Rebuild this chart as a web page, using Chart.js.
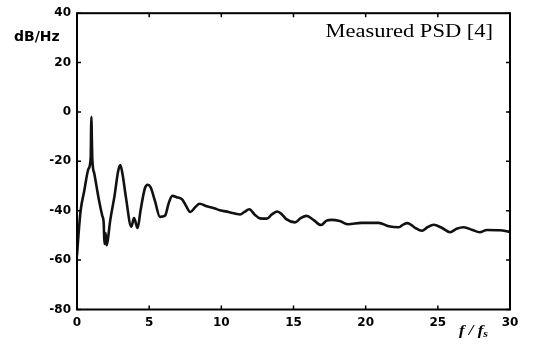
<!DOCTYPE html>
<html>
<head>
<meta charset="utf-8">
<script src="https://cdn.jsdelivr.net/npm/chart.js@4/dist/chart.umd.min.js"></script>
<style>
  html, body { margin: 0; padding: 0; background: #fff; }
  canvas { display: block; }
</style>
</head>
<body>
<canvas id="psdChart" width="533" height="345"></canvas>
<script>
// normalized frequency f/fs
const freq = [0, 0.1, 0.25, 0.5, 0.8, 0.95, 0.98, 1.0, 1.02, 1.06, 1.2, 1.5, 1.75, 1.85, 1.9, 1.98, 2.05, 2.13, 2.3, 2.6,
  2.85, 3.0, 3.15, 3.4, 3.76, 3.95, 4.2, 4.4, 4.7, 4.9, 5.1, 5.4, 5.75, 6.1, 6.35, 6.6, 6.9, 7.3, 7.55, 7.85,
  8.2, 8.5, 9.0, 9.5, 9.9, 10.5, 11.3, 11.6, 11.94, 12.3, 12.68, 13.15, 13.5, 13.88, 14.2, 14.5, 15.1, 15.5, 15.9, 16.4,
  16.9, 17.3, 17.65, 18.2, 18.8, 19.7, 20.9, 21.6, 22.3, 22.6, 22.9, 23.4, 23.9, 24.3, 24.7, 25.3, 25.85, 26.3, 26.8, 27.4,
  27.9, 28.4, 29.3, 30];
// measured PSD, dB/Hz
const psd = [-58, -50, -40, -32, -23, -18.5, -6, -2, -8, -19, -25, -35, -42, -45, -53.5, -49, -54, -52, -44, -34,
  -24, -21.5, -25, -35, -46.5, -43, -47, -40, -31, -29.5, -30.5, -36, -42.5, -42, -37, -34, -34.5, -35.5, -38, -40.5,
  -38.5, -37.2, -38.2, -39, -39.8, -40.5, -41.5, -40.5, -39.4, -41.5, -43.1, -43.2, -41.5, -40.3, -41.5, -43.4, -44.7, -43, -42.1, -43.8,
  -45.8, -44, -43.7, -44.2, -45.5, -44.9, -44.9, -46.3, -46.7, -45.6, -45, -46.8, -48.1, -46.6, -45.7, -47, -48.7, -47.3, -46.7, -47.8,
  -48.7, -47.8, -47.9, -48.6];

const xTicks = [0, 5, 10, 15, 20, 25, 30];
const yTicks = [40, 20, 0, -20, -40, -60, -80];

const points = freq.map((f, i) => ({ x: f, y: psd[i] }));

// frame with inward ticks on all sides, plus the extra texts
const framePlugin = {
  id: 'frame',
  afterDraw(chart) {
    const ctx = chart.ctx;
    const a = chart.chartArea;
    const xs = chart.scales.x, ys = chart.scales.y;
    ctx.save();
    ctx.strokeStyle = '#000';
    ctx.lineWidth = 2;
    ctx.strokeRect(a.left, a.top, a.right - a.left, a.bottom - a.top);
    ctx.lineWidth = 1.5;
    ctx.beginPath();
    xTicks.forEach(v => {
      const px = xs.getPixelForValue(v);
      ctx.moveTo(px, a.bottom); ctx.lineTo(px, a.bottom - 4);
      ctx.moveTo(px, a.top); ctx.lineTo(px, a.top + 4);
    });
    yTicks.forEach(v => {
      const py = ys.getPixelForValue(v);
      ctx.moveTo(a.left, py); ctx.lineTo(a.left + 4, py);
      ctx.moveTo(a.right, py); ctx.lineTo(a.right - 4, py);
    });
    ctx.stroke();

    ctx.fillStyle = '#000';
    ctx.textBaseline = 'alphabetic';
    // y unit
    ctx.font = 'bold 14px "DejaVu Sans"';
    ctx.textAlign = 'left';
    ctx.fillText('dB/Hz', 14, 41);

    // legend-like note
    ctx.save();
    ctx.translate(493, 37);
    ctx.scale(1.25, 1.05);
    ctx.font = '18px "Liberation Serif"';
    ctx.textAlign = 'right';
    ctx.fillText('Measured PSD [4]', 0, 0);
    ctx.restore();

    // x axis title f / fs
    ctx.save();
    ctx.translate(459, 335);
    ctx.scale(1.2, 1);
    ctx.font = 'italic bold 14px "Liberation Serif"';
    ctx.textAlign = 'left';
    ctx.fillText('f / f', 0, 0);
    const w = ctx.measureText('f / f').width;
    ctx.font = 'italic bold 10px "Liberation Serif"';
    ctx.fillText('s', w, 2);
    ctx.restore();
    ctx.restore();
  }
};

function initChart() {
  const ctx = document.getElementById('psdChart').getContext('2d');
  new Chart(ctx, {
    type: 'line',
    data: {
      datasets: [{
        data: points,
        borderColor: '#111',
        borderWidth: 2.6,
        pointRadius: 0,
        fill: false,
        cubicInterpolationMode: 'monotone'
      }]
    },
    options: {
      responsive: false,
      animation: false,
      layout: { padding: { top: 9.5, right: 23, left: 0, bottom: 0 } },
      plugins: { legend: { display: false }, tooltip: { enabled: false } },
      scales: {
        x: {
          type: 'linear',
          min: 0, max: 30,
          afterFit: s => { s.height = 35.5; },
          afterBuildTicks: s => { s.ticks = xTicks.map(v => ({ value: v })); },
          grid: { display: false, drawTicks: false },
          border: { display: false },
          ticks: { color: '#000', padding: 6, font: { family: 'DejaVu Sans', weight: 'bold', size: 12 } }
        },
        y: {
          min: -80, max: 40,
          afterFit: s => { s.width = 77; },
          afterBuildTicks: s => { s.ticks = yTicks.map(v => ({ value: v })); },
          grid: { display: false, drawTicks: false },
          border: { display: false },
          ticks: { color: '#000', padding: 6, font: { family: 'DejaVu Sans', weight: 'bold', size: 12 } }
        }
      }
    },
    plugins: [framePlugin]
  });
}

document.addEventListener('DOMContentLoaded', initChart);
</script>
</body>
</html>
